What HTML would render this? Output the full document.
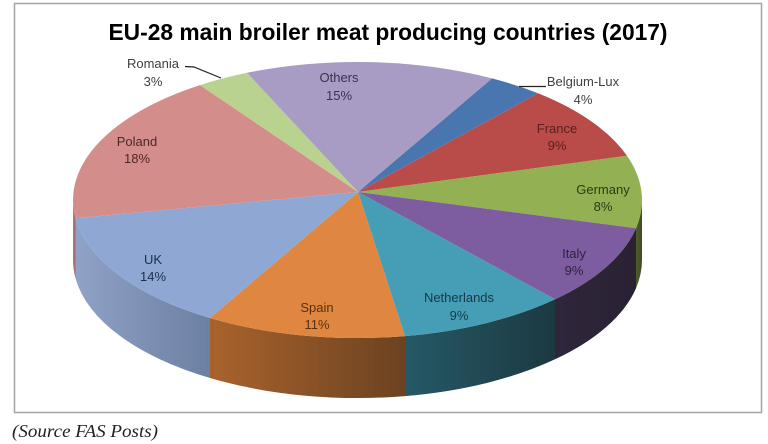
<!DOCTYPE html>
<html>
<head>
<meta charset="utf-8">
<style>
  html,body{margin:0;padding:0;background:#fff;}
  svg{display:block;}
  .lbl{font-family:"Liberation Sans",sans-serif;font-size:13px;text-anchor:middle;}
</style>
</head>
<body>
<svg width="768" height="444" viewBox="0 0 768 444" xmlns="http://www.w3.org/2000/svg">
  <defs>
    <linearGradient id="gPol" x1="0" y1="0" x2="1" y2="0">
      <stop offset="0" stop-color="#b47a78"/><stop offset="1" stop-color="#a06a68"/>
    </linearGradient>
    <linearGradient id="gUK" x1="0" y1="0" x2="1" y2="0">
      <stop offset="0" stop-color="#8fa2c7"/><stop offset="1" stop-color="#6c80a3"/>
    </linearGradient>
    <linearGradient id="gSp" x1="0" y1="0" x2="1" y2="0">
      <stop offset="0" stop-color="#aa632c"/><stop offset="1" stop-color="#6b4221"/>
    </linearGradient>
    <linearGradient id="gNe" x1="0" y1="0" x2="1" y2="0">
      <stop offset="0" stop-color="#255966"/><stop offset="1" stop-color="#1c3942"/>
    </linearGradient>
    <linearGradient id="gIt" x1="0" y1="0" x2="1" y2="0">
      <stop offset="0" stop-color="#2f263b"/><stop offset="1" stop-color="#2a2133"/>
    </linearGradient>
    <linearGradient id="gGe" x1="0" y1="0" x2="1" y2="0">
      <stop offset="0" stop-color="#4d5d2a"/><stop offset="1" stop-color="#3f4c22"/>
    </linearGradient>
  </defs>

  <!-- chart frame -->
  <rect x="14.5" y="3.5" width="747" height="409" fill="#fff" stroke="#a3a3a3" stroke-width="1.5"/>

  <!-- title -->
  <text x="388" y="40" text-anchor="middle" textLength="559" lengthAdjust="spacingAndGlyphs"
        font-family="Liberation Sans, sans-serif" font-weight="bold" font-size="23" fill="#000">EU-28 main broiler meat producing countries (2017)</text>

  <!-- sides -->
  <path d="M73,200 A284.5,138 0 0 0 75.5,218.3 L75.5,278.3 A284.5,138 0 0 1 73,260 Z" fill="url(#gPol)"/>
  <path d="M75.5,218.3 A284.5,138 0 0 0 210,318 L210,378 A284.5,138 0 0 1 75.5,278.3 Z" fill="url(#gUK)"/>
  <path d="M210,318 A284.5,138 0 0 0 405,336.1 L405,396.1 A284.5,138 0 0 1 210,378 Z" fill="url(#gSp)"/>
  <path d="M405,336.1 A284.5,138 0 0 0 555,299.3 L555,359.3 A284.5,138 0 0 1 405,396.1 Z" fill="url(#gNe)"/>
  <path d="M555,299.3 A284.5,138 0 0 0 636,228.2 L636,288.2 A284.5,138 0 0 1 555,359.3 Z" fill="url(#gIt)"/>
  <path d="M636,228.2 A284.5,138 0 0 0 642,200 L642,260 A284.5,138 0 0 1 636,288.2 Z" fill="url(#gGe)"/>

  <!-- top faces -->
  <g stroke="none">
    <path d="M358,192 L492,78.4 A284.5,138 0 0 1 538,93.3 Z" fill="#4a76b0"/>
    <path d="M358,192 L538,93.3 A284.5,138 0 0 1 627,155.8 Z" fill="#b94b49"/>
    <path d="M358,192 L627,155.8 A284.5,138 0 0 1 636,228.2 Z" fill="#93b052"/>
    <path d="M358,192 L636,228.2 A284.5,138 0 0 1 555,299.3 Z" fill="#7d5c9f"/>
    <path d="M358,192 L555,299.3 A284.5,138 0 0 1 405,336.1 Z" fill="#459db6"/>
    <path d="M358,192 L405,336.1 A284.5,138 0 0 1 210,318 Z" fill="#df8640"/>
    <path d="M358,192 L210,318 A284.5,138 0 0 1 75.5,218.3 Z" fill="#8ea8d3"/>
    <path d="M358,192 L75.5,218.3 A284.5,138 0 0 1 200,85.1 Z" fill="#d38e8c"/>
    <path d="M358,192 L200,85.1 A284.5,138 0 0 1 247,72.8 Z" fill="#bad28f"/>
    <path d="M358,192 L247,72.8 A284.5,138 0 0 1 492,78.4 Z" fill="#a99cc4"/>
  </g>

  <!-- leader lines -->
  <polyline points="185,66.5 194,67 221,78" fill="none" stroke="#222" stroke-width="1.2"/>
  <line x1="519" y1="86.5" x2="546" y2="86.5" stroke="#222" stroke-width="1.2"/>

  <!-- labels -->
  <g class="lbl">
    <text x="153" y="68" fill="#404040" class="lbl">Romania</text>
    <text x="153" y="86" fill="#404040" class="lbl">3%</text>

    <text x="583" y="86" fill="#404040" class="lbl">Belgium-Lux</text>
    <text x="583" y="104" fill="#404040" class="lbl">4%</text>

    <text x="339" y="82" fill="#3a3150" class="lbl">Others</text>
    <text x="339" y="100" fill="#3a3150" class="lbl">15%</text>

    <text x="557" y="133" fill="#5a1e1d" class="lbl">France</text>
    <text x="557" y="150" fill="#5a1e1d" class="lbl">9%</text>

    <text x="603" y="194" fill="#2f3a16" class="lbl">Germany</text>
    <text x="603" y="211" fill="#2f3a16" class="lbl">8%</text>

    <text x="574" y="258" fill="#2e2242" class="lbl">Italy</text>
    <text x="574" y="275" fill="#2e2242" class="lbl">9%</text>

    <text x="459" y="302" fill="#153a47" class="lbl">Netherlands</text>
    <text x="459" y="320" fill="#153a47" class="lbl">9%</text>

    <text x="317" y="312" fill="#5a3110" class="lbl">Spain</text>
    <text x="317" y="329" fill="#5a3110" class="lbl">11%</text>

    <text x="153" y="264" fill="#1f2d4a" class="lbl">UK</text>
    <text x="153" y="281" fill="#1f2d4a" class="lbl">14%</text>

    <text x="137" y="146" fill="#4e2625" class="lbl">Poland</text>
    <text x="137" y="163" fill="#4e2625" class="lbl">18%</text>
  </g>

  <!-- caption -->
  <text x="12" y="437" textLength="146" lengthAdjust="spacingAndGlyphs"
        font-family="Liberation Serif, serif" font-style="italic" font-size="18" fill="#222">(Source FAS Posts)</text>
</svg>
</body>
</html>
